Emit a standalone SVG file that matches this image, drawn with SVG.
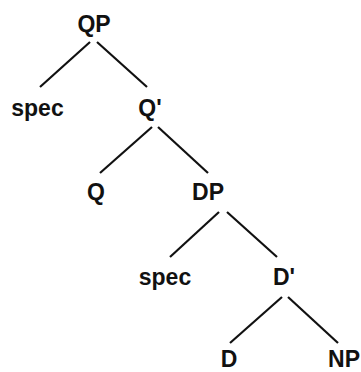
<svg xmlns="http://www.w3.org/2000/svg" width="361" height="372" viewBox="0 0 361 372">
<style>
text{font-family:"Liberation Sans",Arial,sans-serif;font-weight:bold;font-size:23px;fill:#111;text-anchor:middle}
.e line{stroke:#111;stroke-width:2.2;stroke-linecap:butt}
</style>
<rect width="361" height="372" fill="#fff"/>
<g class="e" id="connectors">
<line x1="90" y1="42" x2="40" y2="87"/>
<line x1="97" y1="42" x2="147" y2="87"/>
<line x1="152" y1="127" x2="100" y2="173"/>
<line x1="158" y1="127" x2="208" y2="173"/>
<line x1="219" y1="212" x2="170" y2="257"/>
<line x1="227" y1="212" x2="277" y2="257"/>
<line x1="282" y1="297" x2="230" y2="343"/>
<line x1="288" y1="297" x2="338" y2="343"/>
</g>
<g id="QP"><text x="94" y="32">QP</text></g>
<g id="spec1"><text x="37.5" y="116">spec</text></g>
<g id="Qbar"><text x="150" y="116">Q'</text></g>
<g id="Q"><text x="96" y="200">Q</text></g>
<g id="DP"><text x="208" y="200">DP</text></g>
<g id="spec2"><text x="165" y="285">spec</text></g>
<g id="Dbar"><text x="284" y="285">D'</text></g>
<g id="D"><text x="229" y="367">D</text></g>
<g id="NP"><text x="344" y="367">NP</text></g>
</svg>
